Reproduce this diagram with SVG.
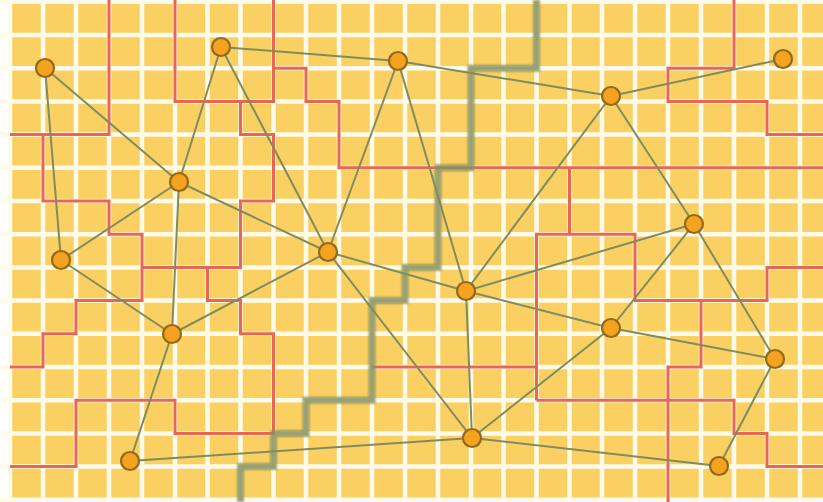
<svg xmlns="http://www.w3.org/2000/svg" width="823" height="502" viewBox="0 0 823 502">
<defs>
<style>
.grid{stroke:#FFFBEA;stroke-width:4.5;fill:none}
.red{stroke:#EA6654;stroke-width:3;fill:none;stroke-linejoin:miter}
.stair{stroke:#87925F;stroke-opacity:0.85;stroke-width:7;fill:none}
.edge{stroke:#7F8C5E;stroke-width:2;fill:none}
.node{fill:#F5A21F;stroke:#93691C;stroke-width:2.2}
</style>
<filter id="soft" x="-5%" y="-5%" width="110%" height="110%"><feGaussianBlur stdDeviation="0.8"/></filter>
</defs>
<rect x="0" y="0" width="823" height="502" fill="#FFFFFF"/>
<rect x="10" y="0" width="813" height="502" fill="#FAD062"/>
<path class="grid" d="M10,0V502M43,0V502M76,0V502M109,0V502M142,0V502M175,0V502M207.5,0V502M240.5,0V502M273.5,0V502M306,0V502M339,0V502M372,0V502M405,0V502M438,0V502M471,0V502M503.5,0V502M536.5,0V502M569.5,0V502M602,0V502M635,0V502M668,0V502M701,0V502M734,0V502M767,0V502M800,0V502
M0,1.8H823M0,35H823M0,68.2H823M0,101.4H823M0,134.6H823M0,167.8H823M0,201H823M0,234.2H823M0,267.4H823M0,300.6H823M0,333.8H823M0,367H823M0,400.2H823M0,433.4H823M0,466.6H823M0,499.8H823"/>
<g id="regions">
<path class="red" d="M109,0V134.6H10"/>
<path class="red" d="M43,134.6V201H109V234.2H142V300.6H76V333.8H43V367H10"/>
<path class="red" d="M175,0V101.4H273.5V0"/>
<path class="red" d="M240.5,101.4V134.6H273.5V201H240.5V267.4H142"/>
<path class="red" d="M273.5,68.2H306V101.4H339V167.8H823"/>
<path class="red" d="M207.5,267.4V300.6H240.5V333.8H273.5V433.4H175V400.2H76V466.6H10"/>
<path class="red" d="M734,0V68.2H668V101.4H767V134.6H823"/>
<path class="red" d="M536.5,400.2V234.2H635V300.6H767V267.4H823"/>
<path class="red" d="M569.5,167.8V234.2"/>
<path class="red" d="M372,367H536.5"/>
<path class="red" d="M536.5,400.2H734V433.4H767V466.6H823"/>
<path class="red" d="M701,300.6V367H668V502"/>
</g>
<g id="cut" filter="url(#soft)">
<path class="stair" d="M536.5,0V68.2H471V167.8H438V267.4H405V300.6H372V400.2H306V433.4H273.5V466.6H240.5V502"/>
</g>
<g id="connectors">
<line class="edge" x1="45" y1="68" x2="179" y2="182"/>
<line class="edge" x1="45" y1="68" x2="61" y2="260"/>
<line class="edge" x1="221" y1="47" x2="398" y2="61"/>
<line class="edge" x1="221" y1="47" x2="179" y2="182"/>
<line class="edge" x1="221" y1="47" x2="328" y2="252"/>
<line class="edge" x1="398" y1="61" x2="611" y2="96"/>
<line class="edge" x1="398" y1="61" x2="328" y2="252"/>
<line class="edge" x1="398" y1="61" x2="466" y2="291"/>
<line class="edge" x1="611" y1="96" x2="783" y2="59"/>
<line class="edge" x1="611" y1="96" x2="466" y2="291"/>
<line class="edge" x1="611" y1="96" x2="694" y2="224"/>
<line class="edge" x1="179" y1="182" x2="61" y2="260"/>
<line class="edge" x1="179" y1="182" x2="328" y2="252"/>
<line class="edge" x1="179" y1="182" x2="172" y2="334"/>
<line class="edge" x1="61" y1="260" x2="172" y2="334"/>
<line class="edge" x1="328" y1="252" x2="172" y2="334"/>
<line class="edge" x1="328" y1="252" x2="466" y2="291"/>
<line class="edge" x1="328" y1="252" x2="472" y2="438"/>
<line class="edge" x1="466" y1="291" x2="694" y2="224"/>
<line class="edge" x1="466" y1="291" x2="611" y2="328"/>
<line class="edge" x1="466" y1="291" x2="472" y2="438"/>
<line class="edge" x1="694" y1="224" x2="611" y2="328"/>
<line class="edge" x1="694" y1="224" x2="775" y2="359"/>
<line class="edge" x1="611" y1="328" x2="775" y2="359"/>
<line class="edge" x1="611" y1="328" x2="472" y2="438"/>
<line class="edge" x1="775" y1="359" x2="719" y2="466"/>
<line class="edge" x1="472" y1="438" x2="719" y2="466"/>
<line class="edge" x1="472" y1="438" x2="130" y2="461"/>
<line class="edge" x1="172" y1="334" x2="130" y2="461"/>
</g>
<g id="n1"><circle class="node" cx="45" cy="68" r="9"/></g>
<g id="n2"><circle class="node" cx="221" cy="47" r="9"/></g>
<g id="n3"><circle class="node" cx="398" cy="61" r="9"/></g>
<g id="n4"><circle class="node" cx="611" cy="96" r="9"/></g>
<g id="n5"><circle class="node" cx="783" cy="59" r="9"/></g>
<g id="n6"><circle class="node" cx="179" cy="182" r="9"/></g>
<g id="n7"><circle class="node" cx="61" cy="260" r="9"/></g>
<g id="n8"><circle class="node" cx="328" cy="252" r="9"/></g>
<g id="n9"><circle class="node" cx="466" cy="291" r="9"/></g>
<g id="n10"><circle class="node" cx="694" cy="224" r="9"/></g>
<g id="n11"><circle class="node" cx="172" cy="334" r="9"/></g>
<g id="n12"><circle class="node" cx="611" cy="328" r="9"/></g>
<g id="n13"><circle class="node" cx="775" cy="359" r="9"/></g>
<g id="n14"><circle class="node" cx="472" cy="438" r="9"/></g>
<g id="n15"><circle class="node" cx="130" cy="461" r="9"/></g>
<g id="n16"><circle class="node" cx="719" cy="466" r="9"/></g>
</svg>
